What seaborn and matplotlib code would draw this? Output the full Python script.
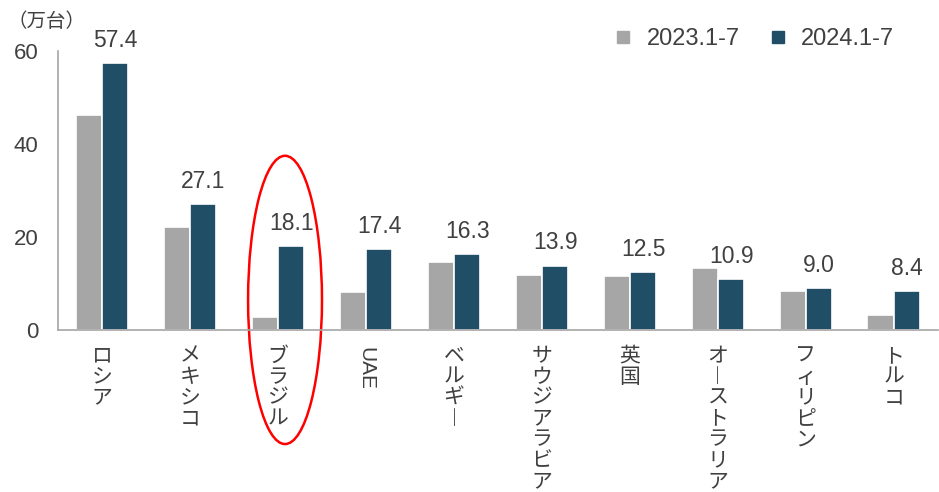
import pandas as pd
import seaborn as sns
import matplotlib.pyplot as plt
from matplotlib.patches import Ellipse
from matplotlib.lines import Line2D

# --- データ ---
countries = ["ロシア", "メキシコ", "ブラジル", "UAE", "ベルギー",
             "サウジアラビア", "英国", "オーストラリア", "フィリピン", "トルコ"]
v2023 = [46.2, 22.2, 2.9, 8.3, 14.7, 11.8, 11.6, 13.4, 8.4, 3.2]
v2024 = [57.4, 27.1, 18.1, 17.4, 16.3, 13.9, 12.5, 10.9, 9.0, 8.4]
periods = ["2023.1-7", "2024.1-7"]
colors = {"2023.1-7": "#A6A6A6", "2024.1-7": "#1F4E66"}

sns.set_theme(style="white")
plt.rcParams['font.family'] = ['Liberation Sans', 'Noto Sans CJK JP', 'DejaVu Sans']

df = pd.DataFrame({
    "国": countries * 2,
    "期間": [periods[0]] * len(countries) + [periods[1]] * len(countries),
    "台数": v2023 + v2024,
})

fig = plt.figure(figsize=(9.39, 4.92), dpi=100)
ax = fig.add_axes([0.0618, 0.329, 0.937, 0.567])

sns.barplot(data=df, x="国", y="台数", hue="期間", palette=colors, ax=ax,
            width=0.6, saturation=1, edgecolor="white", linewidth=1.2, legend=False)

# 2024のみデータラベル
ax.bar_label(ax.containers[1], fmt="%.1f", padding=8, fontsize=16.5, color="#404040")

ax.set_ylim(0, 60)
ax.set_xlim(-0.5, len(countries) - 0.5)
ax.set_yticks([0, 20, 40, 60])
ax.set_xlabel("")
ax.set_ylabel("")

for s in ["top", "right"]:
    ax.spines[s].set_visible(False)
for s in ["left", "bottom"]:
    ax.spines[s].set_color("#A6A6A6")
    ax.spines[s].set_linewidth(1.2)

# 縦書きラベル（長音符は縦棒に）
def tate(s):
    if s.isascii():
        return s
    return "\n".join("︱" if c == "ー" else c for c in s)

ax.set_xticks(range(len(countries)))
ax.set_xticklabels([tate(c) for c in countries], fontsize=15, color="#404040",
                   va="top", linespacing=1.13)
for lab, c in zip(ax.get_xticklabels(), countries):
    if c.isascii():
        lab.set_rotation(270)
ax.tick_params(axis="x", which="major", length=0, pad=12)
ax.set_xticks([i + 0.5 for i in range(len(countries) - 1)], minor=True)
ax.tick_params(axis="x", which="minor", length=7, direction="in", color="#A6A6A6", width=1)
ax.tick_params(axis="y", length=6, direction="in", color="#A6A6A6", width=1,
               labelsize=16, labelcolor="#404040", pad=14)

# 単位
fig.text(0.008, 0.955, "（万台）", fontsize=14, color="#404040", va="center")

# 凡例
handles = [Line2D([], [], marker="s", linestyle="", markersize=8,
                  color=colors[p]) for p in periods]
fig.legend(handles, periods, loc="center right", bbox_to_anchor=(0.975, 0.92),
           ncol=2, frameon=False, fontsize=17, handletextpad=0.0,
           columnspacing=0.6, labelcolor="#404040")

# ブラジルを囲む赤い楕円
ell = Ellipse((2.08, 6.5), width=0.84, height=62, fill=False,
              edgecolor="red", linewidth=1.8, clip_on=False)
ax.add_patch(ell)

fig.savefig("out.png", dpi=100)
